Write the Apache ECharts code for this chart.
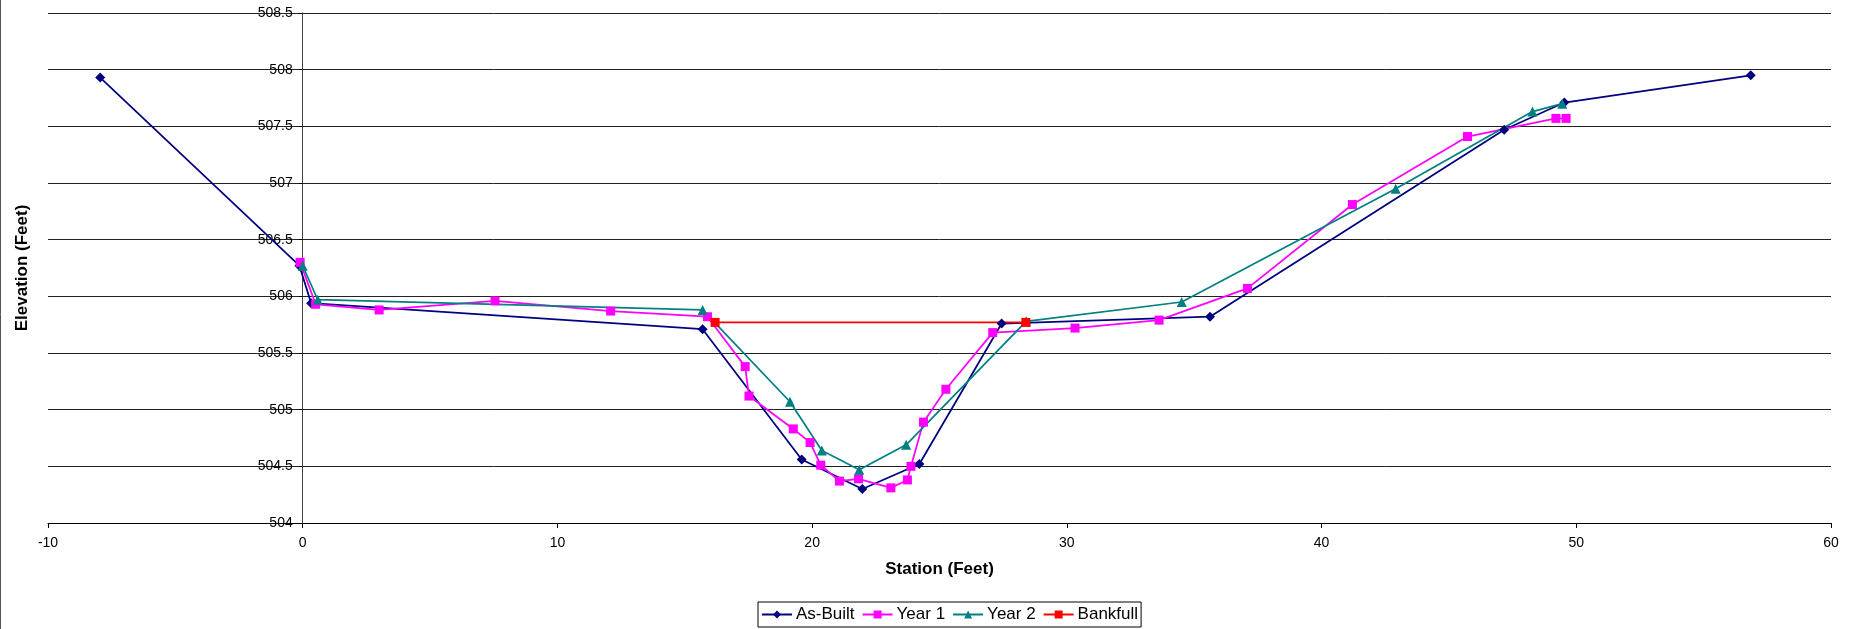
<!DOCTYPE html>
<html>
<head>
<meta charset="utf-8">
<script src="https://cdn.jsdelivr.net/npm/echarts@6/dist/echarts.min.js"></script>
<style>
html, body { margin: 0; padding: 0; background: #fff; }
#chart { width: 1854px; height: 629px; }
</style>
</head>
<body>
<div id="chart"></div>
<script>
// ---- data ----
var seriesNames = ['As-Built', 'Year 1', 'Year 2', 'Bankfull'];

var asBuiltStation = [-7.95, -0.13, 0.33, 15.7, 19.59, 21.97, 24.21, 27.44, 35.62, 47.17, 49.53, 56.85];
var asBuiltElev    = [507.93, 506.27, 505.94, 505.71, 504.56, 504.30, 504.52, 505.76, 505.82, 507.47, 507.71, 507.95];

var year1Station = [-0.1, 0.51, 3.0, 7.55, 12.09, 15.89, 17.37, 17.52, 19.26, 19.92, 20.34, 21.07, 21.82, 23.09, 23.74, 23.88, 24.37, 25.25, 27.09, 30.32, 33.62, 37.09, 41.21, 45.73, 49.2, 49.6];
var year1Elev    = [506.30, 505.93, 505.88, 505.96, 505.87, 505.82, 505.38, 505.12, 504.83, 504.71, 504.51, 504.37, 504.39, 504.31, 504.38, 504.50, 504.89, 505.18, 505.68, 505.72, 505.79, 506.07, 506.81, 507.41, 507.57, 507.57];

var year2Station = [0.0, 0.59, 15.7, 19.13, 20.38, 21.85, 23.69, 28.4, 34.51, 42.91, 48.28, 49.45];
var year2Elev    = [506.27, 505.97, 505.88, 505.07, 504.64, 504.47, 504.69, 505.78, 505.95, 506.95, 507.63, 507.70];

var bankfullStation = [16.19, 28.39];
var bankfullElev    = [505.77, 505.77];

var xTitle = 'Station (Feet)';
var yTitle = 'Elevation (Feet)';

function zip(a, b) { return a.map(function (v, i) { return [v, b[i]]; }); }

var FONT = '"Liberation Sans", Arial, sans-serif';

var GRID_LEFT = 48, GRID_WIDTH = 1783;
var X_MIN = -10, X_MAX = 60;
// shift the y axis so it sits at station 0 (line, ticks and labels together)
var yAxisShift = -GRID_WIDTH * (0 - X_MIN) / (X_MAX - X_MIN);

var chart = echarts.init(document.getElementById('chart'), null, { renderer: 'canvas' });

function mk(name, xs, ys, color, symbol, size) {
  return {
    name: name,
    type: 'line',
    data: zip(xs, ys),
    symbol: symbol,
    symbolSize: size,
    showSymbol: true,
    lineStyle: { color: color, width: 1.75 },
    itemStyle: { color: color },
    emphasis: { disabled: true }
  };
}

chart.setOption({
  animation: false,
  backgroundColor: '#fff',
  grid: { left: GRID_LEFT, top: 13, width: GRID_WIDTH, height: 510, containLabel: false, outerBoundsMode: 'none' },
  xAxis: {
    type: 'value',
    min: X_MIN, max: X_MAX, interval: 10,
    name: xTitle,
    nameLocation: 'middle',
    nameGap: 38,
    nameTextStyle: { fontFamily: FONT, fontSize: 17, fontWeight: 'bold', color: '#000' },
    axisLine: { show: true, onZero: false, lineStyle: { color: '#000', width: 1 } },
    axisTick: { show: true, inside: false, length: 5, lineStyle: { color: '#000' } },
    axisLabel: { fontFamily: FONT, fontSize: 14, color: '#000', margin: 13 },
    splitLine: { show: false }
  },
  yAxis: {
    type: 'value',
    min: 504, max: 508.5, interval: 0.5,
    offset: yAxisShift,
    name: yTitle,
    nameLocation: 'middle',
    nameGap: 272,
    nameRotate: 90,
    nameTextStyle: { fontFamily: FONT, fontSize: 17, fontWeight: 'bold', color: '#000' },
    axisLine: { show: true, onZero: false, lineStyle: { color: '#444', width: 1 } },
    axisTick: { show: true, inside: false, length: 4, lineStyle: { color: '#000' } },
    axisLabel: { fontFamily: FONT, fontSize: 14, color: '#000', margin: 10 },
    splitLine: { show: true, lineStyle: { color: '#222', width: 1 } }
  },
  legend: {
    data: seriesNames,
    left: 758,
    top: 602,
    orient: 'horizontal',
    itemWidth: 30,
    itemHeight: 10,
    itemGap: 7,
    padding: [4, 3, 4, 3],
    borderColor: '#000',
    borderWidth: 1,
    borderRadius: 0,
    textStyle: { fontFamily: FONT, fontSize: 17, color: '#000', padding: [0, 0, 0, -1] }
  },
  graphic: [
    { type: 'line', shape: { x1: 0.5, y1: 0, x2: 0.5, y2: 629 }, style: { stroke: '#555', lineWidth: 1 } }
  ],
  series: [
    mk('As-Built', asBuiltStation, asBuiltElev, '#000080', 'diamond', 10),
    mk('Year 1', year1Station, year1Elev, '#FF00FF', 'rect', 9),
    mk('Year 2', year2Station, year2Elev, '#008080', 'triangle', 10),
    mk('Bankfull', bankfullStation, bankfullElev, '#FF0000', 'rect', 9)
  ]
});
</script>
</body>
</html>
